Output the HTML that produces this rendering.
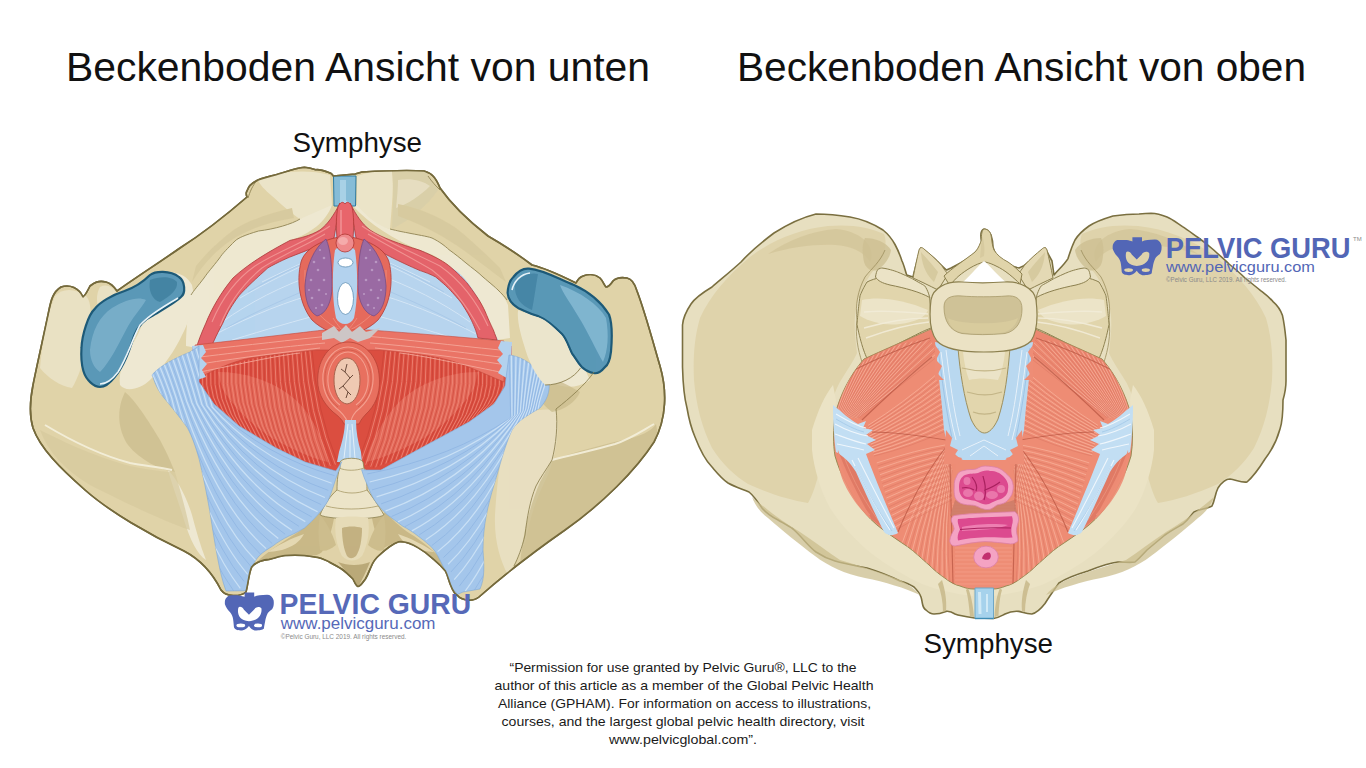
<!DOCTYPE html>
<html><head><meta charset="utf-8"><title>Beckenboden</title>
<style>
html,body{margin:0;padding:0;background:#fff;}
body{width:1366px;height:768px;overflow:hidden;position:relative;font-family:"Liberation Sans",sans-serif;}
svg{position:absolute;left:0;top:0;}
</style></head><body>
<svg width="1366" height="768" viewBox="0 0 1366 768" font-family="Liberation Sans, sans-serif">
<g id="L">
<!-- bone silhouette -->
<path fill="#e0d3a8" stroke="#756a3c" stroke-width="1.6" stroke-linejoin="round" d="
M304.4 167.2 C296 168 288 171 280 173.5 C270 176.5 260 178.5 256 181 C252 183 250.5 185 249.7 185.8 C248 188 247 191 246.4 192.2 C246 194 246.5 196 247 197 C232 210 205 232 180 248 C160 262 135 278 117 291
C113 285 110 283 106 282 C98 280 94 283 90 286 C87 292 85 296 83 297 C79 288 70 284 61 287 C53 292 51 300 49 310
C45 330 38 360 33 385 C30 400 29 415 33 428 C40 448 60 468 85 490 C110 512 150 535 184 551
C205 562 215 578 221 590 C226 597 240 597 246 592 C248 585 249 572 251.7 567 C256 562 262 560 269 559.4 C275 558 280 556 285 555.5 C292 555 298 555 304.5 555.5 C310 556 314 557 318 557.5 C322 558 325 560 328 561.4 C333 564 337 566 341.6 569 C346 572 350 576 353 579 C355 583 356 586 358 586.5 C361 586 363 582 365.4 579 C368 575 369 571 371 567 C373 562 376 558 379 555.5 C385 550 392 544 398.6 541.8 C405 541 412 544 418 547.6 C424 551 429 555 433.7 559.4 C438 563 442 567 445.4 571 C448 576 449 582 451.3 586.7 C453 591 455 594 457 595
C462 601 473 602 479 597 C496 582 522 560 565 530 C602 504 636 470 654 442 C667 418 667 390 660 366
C653 342 645 312 637 291 C635 284 632 279 627 278 C621 277 616 278 613 281 C611 284 609 287 606 287 C604 285 603 281 600 278 C595 274 588 274 583 276 C580 277 578 279 576 283
C560 275 545 268 532 265 C515 252 500 243 488 236 C470 222 452 205 440 188 C436 178 432 173 424 171
C410 170 380 171 362 172 L355 174 L333.4 176 C332 174 331 173 330 172.9 C325 171 320 169 315.7 169.7 C312 168.5 308 167.5 304.4 167.2 Z"/>
<defs><clipPath id="Lsil"><path d="
M304.4 167.2 C296 168 288 171 280 173.5 C270 176.5 260 178.5 256 181 C252 183 250.5 185 249.7 185.8 C248 188 247 191 246.4 192.2 C246 194 246.5 196 247 197 C232 210 205 232 180 248 C160 262 135 278 117 291
C113 285 110 283 106 282 C98 280 94 283 90 286 C87 292 85 296 83 297 C79 288 70 284 61 287 C53 292 51 300 49 310
C45 330 38 360 33 385 C30 400 29 415 33 428 C40 448 60 468 85 490 C110 512 150 535 184 551
C205 562 215 578 221 590 C226 597 240 597 246 592 C248 585 249 572 251.7 567 C256 562 262 560 269 559.4 C275 558 280 556 285 555.5 C292 555 298 555 304.5 555.5 C310 556 314 557 318 557.5 C322 558 325 560 328 561.4 C333 564 337 566 341.6 569 C346 572 350 576 353 579 C355 583 356 586 358 586.5 C361 586 363 582 365.4 579 C368 575 369 571 371 567 C373 562 376 558 379 555.5 C385 550 392 544 398.6 541.8 C405 541 412 544 418 547.6 C424 551 429 555 433.7 559.4 C438 563 442 567 445.4 571 C448 576 449 582 451.3 586.7 C453 591 455 594 457 595
C462 601 473 602 479 597 C496 582 522 560 565 530 C602 504 636 470 654 442 C667 418 667 390 660 366
C653 342 645 312 637 291 C635 284 632 279 627 278 C621 277 616 278 613 281 C611 284 609 287 606 287 C604 285 603 281 600 278 C595 274 588 274 583 276 C580 277 578 279 576 283
C560 275 545 268 532 265 C515 252 500 243 488 236 C470 222 452 205 440 188 C436 178 432 173 424 171
C410 170 380 171 362 172 L355 174 L333.4 176 C332 174 331 173 330 172.9 C325 171 320 169 315.7 169.7 C312 168.5 308 167.5 304.4 167.2 Z"/></clipPath></defs>
<g clip-path="url(#Lsil)">
<!-- bone light areas -->
<g fill="#ebe4c8">
<path d="M258 180 C275 172 305 168 330 175 L332 205 C325 212 312 217 300 219 C292 214 282 205 272 196 C265 190 260 185 258 180 Z"/>
<path d="M357 176 C368 172 380 170 392 170 C394 185 392 205 390 229 C377 227 364 219 357 205 Z"/>
<path fill="#d9cfa8" d="M392 170 C405 169 418 170 426 172 C432 180 436 186 438 190 C428 205 410 220 392 229 C393 210 394 190 392 170 Z"/>
<path fill="#e6ddc0" d="M398 180 C410 178 422 180 430 186 C420 196 408 204 396 208 C397 198 398 188 398 180 Z"/>
</g>
<g fill="#d8cb9f">
<path d="M292 208 C270 213 250 220 235 229 C220 240 207 252 196 266 L192 282 C202 266 214 252 230 241 C246 230 268 222 294 218 Z"/>
<path d="M398 204 C420 208 440 217 456 228 C471 240 486 254 500 268 L506 282 C490 270 472 256 456 245 C438 233 420 224 398 216 Z"/>
</g>
<g fill="#eee8d2">
<path d="M300 219 C292 224 275 229 258.5 231 C245 235 238 238 235 241 C228 248 222 254 219.6 258 C212 268 208 272 204 278 C198 286 194 290 191 295 C188 310 186 330 186 346 L197 348 C199 342 201 334 205.6 323.75 C212 308 221 292.5 233 278 C248 264 268 252 290 240.4 C310 234 326 222 332 205 Z"/>
<path d="M357 205 C368 218 378 226 390 229 C398 231 403 232 407 232.7 C418 235 426 236 432 238 C440 242 445 246 449 249.7 C455 254 460 258 466 263 C472 268 478 272 483 277 C490 283 495 287 498 290 C503 295 506 300 508 305 L510 338 L497 340 C495 335 493.4 330 493.4 330 C490 323 487 316 487 316 C484 308 479 300 479 300 C474 292 467 283 467 283 C460 275 451 267.5 451 267.5 C445 262 435.6 256.6 435.6 256.6 C430 253 420 250.3 420 250.3 C395 240 370 225 352 205 Z"/>
<path d="M150 278 C170 268 185 272 192 285 C196 300 190 320 182 335 C175 350 165 365 150 380 C140 390 125 392 120 385 C118 372 125 355 135 340 C145 322 150 300 150 278 Z"/>
<path d="M520 300 C540 305 560 320 572 340 C580 355 585 370 590 380 C575 390 560 388 548 380 C540 365 535 345 530 330 C526 318 522 308 520 300 Z"/>
<path d="M168 470 C176 478 186 495 192 515 C196 530 200 545 206 560 C198 555 190 540 184 520 C178 500 172 485 168 470 Z"/>
<path fill="#e8dfc0" d="M510 418 C522 412 540 408 556 410 C560 430 556 455 548 475 C538 495 530 515 526 540 C520 555 514 565 508 575 C500 560 494 540 495 515 C497 480 502 445 510 418 Z"/>
</g>
<g fill="#c9bb8d">
<path d="M290 240.4 C268 252 248 264 233 278 C221 292.5 212 308 205.6 323.75 L209.5 323 C216 309 225 295 237 282 C252 269 271 257 293 245 Z"/>
<path d="M420 250.3 C435.6 256.6 445 262 451 267.5 C460 275 467 283 467 283 C474 292 479 300 479 300 C484 308 487 316 487 316 L483 318 C479 308 474 300 464 288 C456 279 446 271 434 263 C428 259 422 256 418 254 Z"/>
</g>
<!-- bone shadows -->
<g fill="#cbbc8e" opacity="0.75">
<path d="M125 392 C135 400 148 420 160 440 C168 455 172 465 175 472 C160 470 140 460 128 445 C118 430 116 410 125 392 Z"/>
<path d="M532 372 C548 374 566 384 580 392 C576 402 564 410 552 412 C542 405 534 392 532 380 Z"/>

<path d="M552 460 C575 452 605 444 632 438 C645 434 652 430 656 424 C660 440 654 456 642 468 C618 492 588 515 560 535 C545 546 530 556 520 566 C522 540 528 510 540 482 Z"/>
</g>
<path fill="#d6c99d" opacity="0.7" d="M40 430 C60 440 90 455 130 466 C150 470 165 472 175 472 C180 490 186 510 190 530 C160 520 120 500 90 485 C65 470 48 452 40 430 Z"/>
<path fill="#e9e1c3" d="M55 296 C62 288 75 288 86 296 C94 304 90 330 86 350 C82 366 78 378 72 388 C60 386 48 378 40 368 C42 345 46 318 55 296 Z"/>
<path fill="#e9e1c3" d="M100 287 C106 284 112 286 116 292 C110 298 104 302 98 306 C96 300 97 292 100 287 Z"/>
<g fill="none" stroke="#f4efdc" stroke-width="2" opacity="0.9">
<path d="M45 425 C70 440 100 455 130 463 C145 466 160 467 172 470"/>
<path d="M654 424 C640 432 630 439 615 444 C595 450 570 455 552 460"/>
</g>
<!-- symphysis -->
<path fill="#86bcd8" stroke="#2e7aa0" stroke-width="1" d="M333.5 176 L356 176 L355.5 206 L334 206 Z"/>
<path fill="#a9d2e6" d="M340 180 L346 180 L346 204 L340 204 Z"/>
<!-- inner region base (blue membrane) -->
<path id="Linner" fill="#b7d4ee" d="M345 200 L340 203 C334 215 328 224 320 230 C310 236 300 238 290 240.4 C268 252 248 264 233 278 C221 292.5 212 308 205.6 323.75 C200 336 198 342 197 348 L192 380
L199 386 L214 404 L239 426 L276 448 L305 462 L334 473 L343 462 L356 462 L366 470 L381 470 L421 448 L469 422 L494 404 L505 386 L510 355
L497 338 C493 330 487 316 479 300 C470 283 460 272 451 267.5 C440 260 430 254 420 250.3 C400 244 382 238 370 230 C362 224 356 215 350 203 Z"/>
<g stroke="#d9e9f8" stroke-width="1" fill="none" opacity="0.85">
<path d="M222 322 C250 302 282 286 316 274"/><path d="M216 334 C250 316 290 300 322 292"/><path d="M240 298 C266 283 292 270 316 260"/><path d="M232 340 C265 330 298 320 326 313"/><path d="M262 282 C282 272 300 264 318 256"/>
<path d="M470 322 C442 302 410 286 376 274"/><path d="M476 334 C442 316 402 300 370 292"/><path d="M452 298 C426 283 400 270 376 260"/><path d="M460 340 C427 330 394 320 366 313"/><path d="M430 282 C410 272 392 264 374 256"/>
</g>
<g stroke="#9fc2e4" stroke-width="0.8" fill="none" opacity="0.7">
<path d="M226 328 C258 310 292 296 320 284"/><path d="M248 292 C272 278 296 266 316 258"/><path d="M466 328 C434 310 400 296 372 284"/><path d="M444 292 C420 278 396 266 376 258"/>
</g>
<!-- levator ani -->
<path fill="#db4e40" d="M192 346 L512 346 L510 386 L494 404 L469 422 L421 448 L381 470 L366 470 L356 462 L343 462 L334 473 L305 462 L276 448 L239 426 L214 404 L199 386 L192 380 Z"/>
<g fill="#e66e5e" opacity="0.85">
<path d="M218 372 C250 372 285 385 305 410 C318 428 325 445 328 462 C310 458 290 448 272 438 C250 424 232 405 222 388 Z"/>
<path d="M478 372 C446 372 412 385 392 410 C378 428 370 445 366 462 C385 458 405 448 424 438 C446 424 464 405 474 388 Z"/>
</g>
<g stroke="#f08a7a" stroke-width="1" fill="none" opacity="0.8"><path d="M194.1 377.2 Q192.6 396.1 208.2 406.5"/><path d="M198.2 375.7 Q196.6 397.0 212.6 409.5"/><path d="M202.4 374.2 Q200.7 397.9 217.0 412.4"/><path d="M206.5 372.7 Q204.7 398.7 221.4 415.4"/><path d="M210.7 371.2 Q208.7 399.6 225.8 418.4"/><path d="M214.9 369.7 Q212.7 400.4 230.2 421.4"/><path d="M219.0 368.2 Q216.8 401.3 234.7 424.3"/><path d="M223.2 366.7 Q220.8 402.2 239.1 427.3"/><path d="M227.4 365.4 Q224.8 403.1 243.5 430.3"/><path d="M231.7 364.2 Q229.0 404.1 248.0 433.1"/><path d="M235.9 363.1 Q233.2 404.9 252.7 435.5"/><path d="M240.2 361.9 Q237.5 405.6 257.4 438.0"/><path d="M244.5 360.8 Q241.7 406.4 262.2 440.4"/><path d="M248.8 359.7 Q245.9 407.2 266.9 442.9"/><path d="M253.0 358.5 Q250.4 407.9 271.6 445.4"/><path d="M257.3 357.5 Q255.2 408.5 276.3 447.8"/><path d="M261.7 356.7 Q260.0 409.2 281.0 450.3"/><path d="M266.0 355.8 Q264.8 409.8 285.7 452.8"/><path d="M270.4 354.9 Q269.6 410.5 290.5 455.2"/><path d="M274.7 354.1 Q274.5 410.9 295.4 457.2"/><path d="M279.0 353.2 Q279.3 411.4 300.3 459.2"/><path d="M283.4 352.3 Q284.2 411.8 305.2 461.2"/><path d="M287.7 351.8 Q289.1 412.4 310.2 463.2"/><path d="M292.2 351.5 Q294.1 413.1 315.1 465.2"/><path d="M296.6 351.1 Q299.0 413.8 320.0 467.2"/><path d="M301.0 350.8 Q304.0 413.5 325.1 467.2"/><path d="M305.4 350.5 Q309.0 412.6 330.3 465.9"/><path d="M309.8 350.2 Q314.1 411.7 335.4 464.6"/><path d="M503.9 377.3 Q505.3 396.1 489.8 406.5"/><path d="M499.6 375.8 Q501.2 397.0 485.3 409.5"/><path d="M495.4 374.3 Q497.1 397.9 480.8 412.6"/><path d="M491.2 372.8 Q493.0 398.8 476.3 415.6"/><path d="M486.9 371.3 Q488.9 399.7 471.8 418.6"/><path d="M482.7 369.8 Q484.8 400.6 467.4 421.6"/><path d="M478.5 368.3 Q480.7 401.5 462.9 424.7"/><path d="M474.2 366.8 Q476.6 402.4 458.4 427.7"/><path d="M469.9 365.5 Q472.5 403.4 453.9 430.7"/><path d="M465.6 364.3 Q468.3 404.3 449.2 433.4"/><path d="M461.3 363.1 Q464.0 405.1 444.5 435.9"/><path d="M456.9 362.0 Q459.7 405.9 439.7 438.4"/><path d="M452.6 360.8 Q455.3 406.7 434.9 441.0"/><path d="M448.2 359.7 Q451.0 407.5 430.1 443.5"/><path d="M443.9 358.5 Q446.5 408.2 425.3 446.0"/><path d="M439.5 357.5 Q441.6 408.8 420.5 448.5"/><path d="M435.1 356.6 Q436.8 409.5 415.7 451.0"/><path d="M430.7 355.7 Q431.9 410.2 410.9 453.5"/><path d="M426.3 354.9 Q427.0 410.7 406.0 455.8"/><path d="M421.9 354.0 Q422.0 411.1 401.0 457.7"/><path d="M417.5 353.1 Q417.0 411.5 395.9 459.6"/><path d="M413.1 352.2 Q412.1 411.9 390.9 461.6"/><path d="M408.6 351.8 Q407.0 412.5 385.8 463.5"/><path d="M404.2 351.4 Q402.0 413.2 380.8 465.4"/><path d="M399.7 351.1 Q397.0 413.9 375.7 467.3"/><path d="M395.2 350.8 Q392.0 413.3 370.7 466.7"/><path d="M390.7 350.5 Q386.9 412.1 365.6 464.8"/><path d="M386.2 350.2 Q381.9 410.8 360.5 462.9"/></g>
<g stroke="#c23a2f" stroke-width="0.8" fill="none" opacity="0.55"><path d="M196.2 376.5 Q194.6 396.6 210.4 408.0"/><path d="M200.3 375.0 Q198.7 397.4 214.8 411.0"/><path d="M204.5 373.5 Q202.7 398.3 219.2 413.9"/><path d="M208.6 372.0 Q206.7 399.1 223.6 416.9"/><path d="M212.8 370.4 Q210.7 400.0 228.0 419.9"/><path d="M216.9 368.9 Q214.8 400.9 232.5 422.9"/><path d="M221.1 367.4 Q218.8 401.7 236.9 425.8"/><path d="M225.3 365.9 Q222.8 402.6 241.3 428.8"/><path d="M229.5 364.8 Q226.9 403.6 245.7 431.8"/><path d="M233.8 363.7 Q231.1 404.5 250.4 434.3"/><path d="M238.1 362.5 Q235.4 405.2 255.1 436.7"/><path d="M242.3 361.4 Q239.6 406.0 259.8 439.2"/><path d="M246.6 360.2 Q243.8 406.8 264.5 441.7"/><path d="M250.9 359.1 Q248.1 407.6 269.2 444.1"/><path d="M255.2 358.0 Q252.8 408.2 273.9 446.6"/><path d="M259.5 357.1 Q257.6 408.8 278.7 449.1"/><path d="M263.8 356.2 Q262.4 409.5 283.4 451.5"/><path d="M268.2 355.4 Q267.2 410.2 288.1 454.0"/><path d="M272.5 354.5 Q272.0 410.7 292.9 456.2"/><path d="M276.9 353.6 Q276.9 411.1 297.9 458.2"/><path d="M281.2 352.8 Q281.8 411.6 302.8 460.2"/><path d="M285.5 352.0 Q286.7 412.0 307.7 462.2"/><path d="M289.9 351.6 Q291.6 412.8 312.6 464.2"/><path d="M294.4 351.3 Q296.5 413.5 317.6 466.2"/><path d="M298.8 351.0 Q301.5 414.0 322.5 467.9"/><path d="M303.2 350.7 Q306.5 413.1 327.7 466.6"/><path d="M307.6 350.3 Q311.6 412.1 332.8 465.3"/><path d="M312.0 350.0 Q316.6 411.2 338.0 464.0"/><path d="M501.8 376.5 Q503.3 396.6 487.5 408.0"/><path d="M497.5 375.0 Q499.2 397.5 483.0 411.1"/><path d="M493.3 373.5 Q495.1 398.4 478.6 414.1"/><path d="M489.1 372.0 Q491.0 399.3 474.1 417.1"/><path d="M484.8 370.5 Q486.9 400.2 469.6 420.1"/><path d="M480.6 369.0 Q482.8 401.1 465.1 423.2"/><path d="M476.4 367.5 Q478.7 402.0 460.6 426.2"/><path d="M472.1 366.0 Q474.6 402.8 456.1 429.2"/><path d="M467.8 364.9 Q470.4 403.9 451.6 432.2"/><path d="M463.4 363.7 Q466.1 404.7 446.9 434.7"/><path d="M459.1 362.6 Q461.8 405.5 442.1 437.2"/><path d="M454.8 361.4 Q457.5 406.3 437.3 439.7"/><path d="M450.4 360.2 Q453.2 407.1 432.5 442.2"/><path d="M446.1 359.1 Q448.9 407.9 427.7 444.7"/><path d="M441.7 357.9 Q444.1 408.5 422.9 447.2"/><path d="M437.3 357.1 Q439.2 409.1 418.1 449.7"/><path d="M432.9 356.2 Q434.3 409.8 413.3 452.2"/><path d="M428.5 355.3 Q429.5 410.5 408.5 454.7"/><path d="M424.1 354.4 Q424.5 410.9 403.5 456.7"/><path d="M419.7 353.5 Q419.5 411.3 398.4 458.7"/><path d="M415.3 352.7 Q414.5 411.7 393.4 460.6"/><path d="M410.9 351.9 Q409.6 412.2 388.3 462.5"/><path d="M406.4 351.6 Q404.5 412.9 383.3 464.4"/><path d="M401.9 351.3 Q399.5 413.5 378.2 466.4"/><path d="M397.4 351.0 Q394.5 413.9 373.2 467.7"/><path d="M393.0 350.6 Q389.5 412.7 368.1 465.8"/><path d="M388.5 350.3 Q384.4 411.4 363.1 463.9"/><path d="M384.0 350.0 Q379.4 410.2 358.0 462.0"/></g>
<!-- ischiocavernosus (crura) -->
<path fill="#e4636a" stroke="#b23a36" stroke-width="0.8" d="M340 203 C334 215 328 224 320 230 C310 236 300 238 290 240.4 C268 252 248 264 233 278 C221 292.5 212 308 205.6 323.75 C201 334 198 342 196 349 L211 348 C214 340 218 332 222.5 323.75 C226 316 229 310.7 229 310.7 C234 302 239.5 295 239.5 295 C245 289 252.5 282 252.5 282 C260 275 268 267.8 268 267.8 C278 262 290 257 290 257 C305 251 320 246 334 238 Z"/>
<path fill="#e4636a" stroke="#b23a36" stroke-width="0.8" d="M350 203 C356 215 362 224 370 230 C382 238 400 244 420 250.3 C435 256.6 445 262 451 267.5 C460 275 467 283 467 283 C474 292 479 300 479 300 C484 308 487 316 487 316 C490 323 493.4 330 493.4 330 C495 335 496.6 337.8 497 340 L478 338 C476 330 474 326 471.6 320.6 C467 311 460.6 302 460.6 302 C455 295 448 287.8 448 287.8 C442 282 435.6 276.9 435.6 276.9 C428 273 420 270.6 420 270.6 C400 262 380 252 356 238 Z"/>
<g stroke="#f39a98" stroke-width="1.1" fill="none" opacity="0.85">
<path d="M330 226 C310 240 280 250 255 266 C235 280 222 298 212 322"/>
<path d="M325 234 C305 246 280 256 262 268 C245 282 230 300 220 326"/>
<path d="M362 226 C382 240 412 252 440 266 C460 280 476 300 488 326"/>
<path d="M368 234 C388 246 412 258 432 270 C450 284 466 304 480 330"/>
</g>
<!-- bulbospongiosus surround -->
<path fill="#e56a5c" stroke="#b23a36" stroke-width="0.8" d="M345 236 C330 238 306 245 301 262 C296 282 300 305 312 320 C322 330 336 334 345 337 C354 334 368 330 378 320 C390 305 394 282 389 262 C384 245 360 238 345 236 Z"/>
<g stroke="#f39a8c" stroke-width="0.8" fill="none" opacity="0.8"><path d="M305 270 C304 295 312 315 340 330"/><path d="M386 270 C387 295 379 315 350 330"/><path d="M333 318 C338 326 342 330 345 333"/><path d="M357 318 C352 326 348 330 345 333"/></g>
<!-- bulbs -->
<path fill="#9a6aa3" stroke="#7a4c84" stroke-width="0.8" d="M326 239 C314 248 306 266 305 286 C305 300 309 312 317 316 C326 314 332 302 332 286 C332 268 331 250 326 239 Z"/>
<path fill="#9a6aa3" stroke="#7a4c84" stroke-width="0.8" d="M364 239 C376 248 385 266 386 286 C386 300 382 312 374 316 C365 314 358 302 358 286 C358 268 359 250 364 239 Z"/>
<g fill="#b996c2">
<circle cx="314" cy="262" r="1.3"/><circle cx="318" cy="270" r="1.3"/><circle cx="311" cy="280" r="1.3"/><circle cx="319" cy="290" r="1.3"/><circle cx="312" cy="298" r="1.3"/><circle cx="324" cy="280" r="1.3"/><circle cx="322" cy="305" r="1.3"/><circle cx="324" cy="258" r="1.3"/><circle cx="309" cy="290" r="1.1"/><circle cx="326" cy="294" r="1.1"/><circle cx="316" cy="308" r="1.1"/><circle cx="320" cy="250" r="1.1"/>
<circle cx="376" cy="262" r="1.3"/><circle cx="372" cy="270" r="1.3"/><circle cx="379" cy="280" r="1.3"/><circle cx="371" cy="290" r="1.3"/><circle cx="378" cy="298" r="1.3"/><circle cx="366" cy="280" r="1.3"/><circle cx="368" cy="305" r="1.3"/><circle cx="366" cy="258" r="1.3"/><circle cx="381" cy="290" r="1.1"/><circle cx="364" cy="294" r="1.1"/><circle cx="374" cy="308" r="1.1"/><circle cx="370" cy="250" r="1.1"/>
</g>
<!-- vestibule -->
<path fill="#b3d2ee" d="M335 250 C332 270 332 300 336 318 C340 326 350 326 354 318 C358 300 358 270 355 250 C350 245 340 245 335 250 Z"/>
<ellipse cx="345.5" cy="262.5" rx="7.5" ry="4.5" fill="#fff" stroke="#5e8fb4" stroke-width="0.8"/>
<ellipse cx="345.5" cy="298.5" rx="8" ry="16" fill="#fff" stroke="#5e8fb4" stroke-width="0.8"/>
<!-- clitoris -->
<path fill="#e8656c" stroke="#b23a36" stroke-width="0.8" d="M338 207 C336 215 336 228 337 238 C340 246 350 246 353 238 C354 228 354 215 352 207 C350 202 347 201 345 204 C343 201 340 202 338 207 Z"/>
<path fill="none" stroke="#f3a0a0" stroke-width="1.2" d="M341 210 L341 236"/>
<circle cx="345" cy="243" r="9" fill="#ef8a8c" stroke="#b23a36" stroke-width="0.8"/>
<ellipse cx="343" cy="241" rx="5" ry="4" fill="#f6b3b3" opacity="0.8"/>
<!-- transverse perineal band -->
<path fill="#ea7466" stroke="#c4463a" stroke-width="0.6" d="M195 345 C240 340 290 334 324 330 L369 330 C410 333 460 337 504 341 L504 382 C480 372 460 362 440 358 C420 354 400 352 379 350 L317 350 C290 353 270 355 250 358 C230 362 210 372 195 380 Z"/>
<g stroke="#f6aa9c" stroke-width="1" fill="none" opacity="0.85">
<path d="M200 350 C250 345 290 340 330 336"/><path d="M200 357 C250 351 290 346 325 343"/><path d="M200 364 C245 357 285 352 320 348"/><path d="M200 372 C240 364 275 356 300 353"/>
<path d="M500 350 C450 345 410 340 365 336"/><path d="M500 357 C450 351 410 346 370 343"/><path d="M500 364 C455 357 415 352 375 348"/><path d="M500 372 C460 364 425 356 400 353"/>
</g>
<!-- blue tendon ends of transverse band -->
<path fill="#b3d2ee" d="M192 346 L203 345 L206 352 L201 358 L207 364 L202 370 L206 377 L194 381 Z"/>
<path fill="#b3d2ee" d="M512 342 L501 341 L498 348 L503 354 L497 360 L502 366 L498 373 L510 380 Z"/>
<!-- perineal body -->
<path fill="#cdc6c6" d="M322 333 L334 326 L339 332 L346 325 L352 332 L360 326 L366 332 L380 328 L370 338 L358 342 L350 338 L342 343 L334 338 L322 340 Z"/>
<!-- anal sphincter -->
<path fill="#e8705f" stroke="#b84236" stroke-width="0.8" d="M348 342 C332 342 320 356 318 374 C316 390 322 402 333 412 C338 416 342 419 344 424 L359 424 C361 419 365 415 369 411 C377 402 381 390 379 374 C377 356 364 342 348 342 Z"/>
<g fill="none" stroke="#f6a595" stroke-width="1.1" opacity="0.9">
<path d="M348 347 C336 347 325 358 323 374 C322 388 327 400 336 408 C341 412 345 416 347 421"/>
<path d="M348 347 C360 347 371 358 373 374 C374 388 369 400 360 408 C355 412 352 416 351 421"/>
<path d="M348 352 C338 352 330 362 328 376 C327 390 332 399 340 405"/>
<path d="M348 352 C358 352 366 362 368 376 C369 390 364 399 356 405"/>
</g>
<g fill="none" stroke="#c9503f" stroke-width="0.8" opacity="0.7">
<path d="M348 350 C334 350 326 362 325 376 C324 390 330 401 338 407"/>
<path d="M348 350 C362 350 370 362 371 376 C372 390 366 401 358 407"/>
</g>
<path fill="#efc9b2" stroke="#a8644f" stroke-width="1" d="M347 358 C339 358 334 368 334 380 C334 393 339 403 347 404 C355 403 360 393 360 380 C360 368 355 358 347 358 Z"/>
<path d="M347 364 L345 372 L350 378 L343 386 L348 392 L346 398 M345 372 L341 369 M350 378 L353 375 M343 386 L339 389 M348 392 L351 395" stroke="#6b4a3a" stroke-width="1" fill="none"/>
<!-- anococcygeal -->
<path fill="#b3d2ee" d="M345 420 L356 420 C356 432 358 442 361 452 L362 462 L337 462 L339 452 C342 442 345 432 345 420 Z"/>
<path stroke="#e2eff9" stroke-width="1" fill="none" d="M348 424 L344 458 M352 424 L355 458 M350 430 L350 460"/>
<!-- coccyx / sacrum detail -->
<g fill="#c9b887">
<path d="M246 592 C248 580 250 572 254 565 C262 556 276 546 292 536 C302 530 312 522 320 512 L334 518 C332 530 328 542 322 552 C318 556 312 556 304 555.5 C295 555 288 555 283 556 C272 558 262 561 254 566 C250 575 248 585 246 592 Z"/>
<path d="M457 595 C455 585 452 575 447 566 C440 556 428 546 414 536 C404 530 394 522 386 512 L372 518 C374 530 378 540 384 548 C390 545 395 542 398.6 541.8 C408 542 418 548 428 555 C436 562 442 568 446 574 C450 582 453 590 457 595 Z"/>
</g>
<g fill="#e4d8b2">
<path d="M268 552 C278 545 292 538 304 534 C300 542 292 547 282 550 C276 551 271 552 268 552 Z"/>
<path d="M434 552 C424 545 410 538 398 534 C402 542 410 547 420 550 C426 551 431 552 434 552 Z"/>
</g>
<path fill="#ece4c8" stroke="#8c804f" stroke-width="0.8" d="M340 462 C342 457 361 457 363 462 L364 468 C366 472 367 480 367 490 C372 496 378 505 384 515 C376 520 330 520 320 515 C324 505 330 496 337 490 C337 480 338 472 340 468 Z"/>
<g fill="none" stroke="#a89a68" stroke-width="0.8"><path d="M339 468 C346 471 356 471 364 468"/><path d="M337 490 C346 494 358 494 367 490"/><path d="M326 506 C340 510 362 510 378 506"/></g>
<g fill="#cdbd8d">
<path d="M320 515 C326 522 332 532 336 545 C330 550 324 552 320 550 C318 538 318 526 320 515 Z"/>
<path d="M384 515 C378 522 372 532 368 545 C374 550 380 552 384 550 C386 538 386 526 384 515 Z"/>
</g>
<path fill="#e6dbb7" d="M336 518 C346 516 358 516 368 518 C370 530 368 545 362 556 C356 562 348 562 342 556 C336 545 334 530 336 518 Z"/>
<path fill="#c3b181" d="M342 528 C348 526 356 526 362 528 C362 540 360 550 356 556 C352 559 350 559 347 556 C344 550 342 540 342 528 Z"/>
<path fill="#bba979" d="M338 562 C345 570 352 580 358 587 C362 580 366 572 370 562 C360 566 348 566 338 562 Z"/>
<g fill="#b9a775" opacity="0.8">
<path d="M252 568 C262 562 276 558 290 557 C300 556 312 557 322 560 C330 563 338 566 344 572 C335 570 325 566 312 564 C295 562 275 564 256 574 Z"/>
<path d="M450 575 C442 566 430 558 418 552 C410 548 404 546 398 546 C390 548 384 553 378 560 C386 556 394 553 402 553 C418 556 432 564 448 584 Z"/>
</g>
<!-- sacrotuberous ligaments -->
<defs><clipPath id="ligclip"><path d="M152 375 C158 367 175 358 190 352 L199 346 L199 382 L214 404 L239 426 L276 448 L305 462 L336 471 L341.6 461.7
C339 470 336 478 333.8 485 C332 491 330 496 328 500.8 C325 506 322 510 318 514.5 C314 519 309 524 304.5 528 C299 531 294 534 288.9 536 C283 539 278 542 273 545.8 C268 549 263 552 259.5 555.5 C256 559 254 563 251.7 567 C250 572 249 578 247.8 583 C247 586 246.5 589 245.9 590.7 L226 591 C222 580 220 570 218 560 C215 545 212 525 209.5 509.5 C207 495 203 475 199 458.6 C196 448 192 436 187.5 428 C182 420 170 405 163.7 397.6 C158 390 155 384 153 377 Z"/><path d="M509 355 C520 356 535 364 549 382 C550 392 547 400 540 408 C530 414 518 420 512 430 C505 445 500 465 494 485 C488 505 483 525 483 550 C484 565 485 578 480 589 L463 592 L457.2 594.5 C455 591 453 589 451.3 586.7 C449 581 447 576 445.4 571 C443 566 441 562 439.6 559.4 C437 554 434 549 430 545.7 C426 542 422 539 418 536 C413 532 408 529 402.5 526 C397 522 392 518 386.9 514.4 C382 510 378 505 375 500.8 C372 496 369 490 367.3 485 C365 480 363 475 361.5 469.5 L366 470 L381 470 L421 448 L469 422 L494 404 L505 386 Z"/></clipPath></defs>
<path fill="#a5c7ec" stroke="#7fa9d6" stroke-width="0.6" d="M152 375 C158 367 175 358 190 352 L199 346 L199 382 L214 404 L239 426 L276 448 L305 462 L336 471 L341.6 461.7
C339 470 336 478 333.8 485 C332 491 330 496 328 500.8 C325 506 322 510 318 514.5 C314 519 309 524 304.5 528 C299 531 294 534 288.9 536 C283 539 278 542 273 545.8 C268 549 263 552 259.5 555.5 C256 559 254 563 251.7 567 C250 572 249 578 247.8 583 C247 586 246.5 589 245.9 590.7 L226 591 C222 580 220 570 218 560 C215 545 212 525 209.5 509.5 C207 495 203 475 199 458.6 C196 448 192 436 187.5 428 C182 420 170 405 163.7 397.6 C158 390 155 384 153 377 Z"/>
<path fill="#a5c7ec" stroke="#7fa9d6" stroke-width="0.6" d="M509 355 C520 356 535 364 549 382 C550 392 547 400 540 408 C530 414 518 420 512 430 C505 445 500 465 494 485 C488 505 483 525 483 550 C484 565 485 578 480 589 L463 592 L457.2 594.5 C455 591 453 589 451.3 586.7 C449 581 447 576 445.4 571 C443 566 441 562 439.6 559.4 C437 554 434 549 430 545.7 C426 542 422 539 418 536 C413 532 408 529 402.5 526 C397 522 392 518 386.9 514.4 C382 510 378 505 375 500.8 C372 496 369 490 367.3 485 C365 480 363 475 361.5 469.5 L366 470 L381 470 L421 448 L469 422 L494 404 L505 386 Z"/>
<g clip-path="url(#ligclip)">
<g stroke="#cfe3f7" stroke-width="1.2" fill="none" opacity="0.9"><path d="M151.0 371.2 Q156.1 381.3 161.3 395.3 Q187.2 532.8 226.0 591.8"/><path d="M155.1 368.1 Q160.7 380.3 166.4 396.5 Q196.0 530.9 240.3 588.4"/><path d="M159.1 364.9 Q165.3 379.3 171.5 397.7 Q202.0 521.3 247.7 574.3"/><path d="M163.2 361.7 Q169.9 378.3 176.5 398.8 Q208.4 512.2 256.1 560.8"/><path d="M167.2 358.6 Q174.4 377.3 181.6 400.0 Q215.4 504.0 266.1 548.6"/><path d="M171.9 356.5 Q179.3 376.8 186.7 401.2 Q223.4 497.2 278.3 538.4"/><path d="M176.6 354.5 Q184.2 376.5 191.8 402.4 Q231.9 491.9 292.0 530.3"/><path d="M181.4 352.6 Q189.2 376.1 196.9 403.6 Q240.3 486.2 305.3 521.6"/><path d="M186.2 350.7 Q194.1 375.7 202.0 404.8 Q248.3 479.6 317.6 511.7"/><path d="M191.1 349.5 Q199.1 375.7 207.1 405.9 Q254.2 470.0 324.8 497.5"/><path d="M196.2 348.6 Q204.2 375.9 212.2 407.1 Q260.0 460.3 331.7 483.2"/><path d="M547.3 379.1 Q543.3 388.7 539.3 402.4 Q516.3 535.0 481.8 591.8"/><path d="M544.7 375.4 Q540.6 387.6 536.6 403.8 Q508.0 534.9 465.2 591.1"/><path d="M542.0 371.7 Q537.9 386.5 533.9 405.3 Q502.0 527.3 454.2 579.6"/><path d="M539.3 368.0 Q535.2 385.3 531.1 406.7 Q497.9 516.9 448.1 564.2"/><path d="M536.6 364.3 Q532.5 384.2 528.4 408.2 Q492.1 508.6 437.6 551.6"/><path d="M533.3 361.4 Q529.5 383.5 525.7 409.6 Q485.7 500.8 425.8 539.8"/><path d="M529.0 359.9 Q526.0 383.5 523.0 411.1 Q478.5 494.9 411.9 530.9"/><path d="M524.7 358.4 Q522.5 383.5 520.2 412.5 Q471.4 488.9 398.1 521.7"/><path d="M520.4 356.8 Q518.9 383.4 517.5 414.0 Q464.7 481.8 385.6 510.9"/><path d="M516.0 355.8 Q515.4 383.6 514.8 415.5 Q459.5 472.5 376.5 496.9"/><path d="M511.4 355.3 Q511.7 384.1 512.0 416.9 Q455.1 462.4 369.6 482.0"/></g>
<g stroke="#86ade0" stroke-width="0.8" fill="none" opacity="0.7"><path d="M153.0 369.6 Q158.4 380.8 163.8 395.9 Q191.9 532.7 233.9 591.3"/><path d="M157.1 366.5 Q163.0 379.8 168.9 397.1 Q199.0 526.1 244.0 581.4"/><path d="M161.2 363.3 Q167.6 378.8 174.0 398.2 Q205.1 516.7 251.7 567.4"/><path d="M165.2 360.2 Q172.1 377.8 179.1 399.4 Q211.7 507.8 260.5 554.2"/><path d="M169.5 357.4 Q176.8 377.0 184.2 400.6 Q219.4 500.6 272.2 543.5"/><path d="M174.3 355.5 Q181.8 376.6 189.3 401.8 Q227.6 494.5 285.1 534.2"/><path d="M179.0 353.6 Q186.7 376.3 194.4 403.0 Q236.2 489.3 298.9 526.3"/><path d="M183.8 351.7 Q191.6 375.9 199.5 404.2 Q244.4 483.1 311.7 516.9"/><path d="M188.6 349.9 Q196.6 375.6 204.5 405.3 Q251.2 474.8 321.2 504.6"/><path d="M193.7 349.1 Q201.7 375.8 209.6 406.5 Q257.1 465.2 328.3 490.4"/><path d="M198.7 348.2 Q206.7 376.0 214.7 407.7 Q262.7 455.3 334.6 475.7"/><path d="M546.0 377.2 Q542.0 388.2 538.0 403.1 Q512.2 534.9 473.5 591.5"/><path d="M543.3 373.5 Q539.3 387.0 535.2 404.5 Q504.8 531.7 459.3 586.2"/><path d="M540.6 369.8 Q536.6 385.9 532.5 406.0 Q499.9 522.2 450.9 572.0"/><path d="M538.0 366.1 Q533.9 384.8 529.8 407.5 Q495.3 512.5 443.5 557.5"/><path d="M535.3 362.4 Q531.2 383.7 527.0 408.9 Q488.9 504.7 431.7 545.7"/><path d="M531.2 360.6 Q527.7 383.5 524.3 410.4 Q482.3 497.5 419.2 534.9"/><path d="M526.8 359.1 Q524.2 383.5 521.6 411.8 Q474.8 492.3 404.7 526.8"/><path d="M522.5 357.6 Q520.7 383.4 518.9 413.3 Q467.9 485.6 391.6 516.5"/><path d="M518.2 356.1 Q517.2 383.4 516.1 414.7 Q462.1 477.1 381.1 503.9"/><path d="M513.7 355.6 Q513.5 383.9 513.4 416.2 Q456.8 467.8 372.0 489.9"/><path d="M509.1 355.1 Q509.9 384.4 510.7 417.6 Q453.3 457.1 367.2 474.0"/></g>
</g>
<!-- cartilage blue -->
<path fill="#5a98b7" stroke="#1d5a78" stroke-width="2.2" d="M81.5 347.7 C82 335 88 315 95 308.6 C100 302 112 295 124.5 291 C133 288 143 282 150 275 C155 271 170 270 179 277 C185 281 186 293 181 297 C175 303 160 311 152 316 C143 320 138 326 134 336 C130 348 125 365 114.7 377 C110 383 105 387 100 387 C94 387 86 380 83.4 371 C81 363 81 355 81.5 347.7 Z"/>
<path fill="#7db0cb" opacity="0.85" d="M90 350 C92 330 100 316 112 308 C125 300 138 296 146 300 C140 310 132 318 126 330 C118 345 110 362 100 372 C94 368 90 360 90 350 Z"/>
<path fill="#3f7f9e" opacity="0.8" d="M150 280 C160 276 172 276 177 282 C178 290 170 296 160 302 C152 300 148 290 150 280 Z"/>
<path fill="none" stroke="#e8f3f8" stroke-width="1.6" d="M178 298 C165 306 150 314 140 325 C132 340 127 358 118 372 C112 380 106 384 100 384"/>
<path fill="#5a98b7" stroke="#1d5a78" stroke-width="2.2" d="M507.6 293 C508 285 510 280 513.4 277 C518 271 523 268 529 268.6 C545 270 560 280 574 285 C585 290 600 300 609 314.5 C613 325 612 340 611 351.6 C610 360 608 365 605 367 C600 373 597 374 593.5 373 C587 372 583 368 581.8 367 C577 362 575 357 572 353.5 C568 345 566 338 562 334 C556 328 548 320 538.8 316.4 C530 314 525 311 519 308.6 C513 305 508 300 507.6 293 Z"/>
<path fill="#86bad4" opacity="0.85" d="M560 285 C580 292 598 304 606 318 C609 335 608 350 603 362 C596 350 588 332 578 316 C570 302 562 292 560 285 Z"/>
<path fill="#3f7f9e" opacity="0.7" d="M515 285 C520 276 530 272 538 274 C536 285 534 300 532 310 C522 306 514 298 515 285 Z"/>
<path fill="none" stroke="#e8f3f8" stroke-width="1.6" d="M512 290 C514 281 521 274 530 273"/>
<path fill="#ece5cc" d="M518 310 C525 312.5 530 315.5 538.8 317.6 C548 321 555 329 561 335 C565 339 567 346 571 354.5 C574 358 576 363 580.5 368 C574 378 560 385 545 385 C535 375 528 360 524 345 C520 332 517 320 518 310 Z"/>
<path fill="none" stroke="#8c804f" stroke-width="0.9" d="M580.5 368 C574 378 560 385 545 385"/>
<!-- inner contour lines on bone -->
<g fill="none" stroke="#8c804f" stroke-width="1" opacity="0.85">
<path d="M300 219 C292 224 275 229 258.5 231 C245 235 238 238 235 241 C228 248 222 254 219.6 258 C212 268 208 272 204 278 C198 286 194 290 191 295"/>
<path d="M390 229 C398 231 403 232 407 232.7 C418 235 426 236 432 238 C440 242 445 246 449 249.7 C455 254 460 258 466 263 C472 268 478 272 483 277 C490 283 495 287 498 290 C502 294 505 297 507 300"/>
<path d="M258 179 C252 186 250 192 248 198"/>
<path d="M428 176 C432 182 436 186 440 190"/>
<path d="M594 372 C585 385 570 398 556 409 C558 425 556 445 552 460 C546 470 540 478 536 486 C530 500 527 518 525 535 C522 548 518 558 514 566"/>
</g>
</g>
<path fill="none" stroke="#756a3c" stroke-width="1.6" stroke-linejoin="round" d="
M304.4 167.2 C296 168 288 171 280 173.5 C270 176.5 260 178.5 256 181 C252 183 250.5 185 249.7 185.8 C248 188 247 191 246.4 192.2 C246 194 246.5 196 247 197 C232 210 205 232 180 248 C160 262 135 278 117 291
C113 285 110 283 106 282 C98 280 94 283 90 286 C87 292 85 296 83 297 C79 288 70 284 61 287 C53 292 51 300 49 310
C45 330 38 360 33 385 C30 400 29 415 33 428 C40 448 60 468 85 490 C110 512 150 535 184 551
C205 562 215 578 221 590 C226 597 240 597 246 592 C248 585 249 572 251.7 567 C256 562 262 560 269 559.4 C275 558 280 556 285 555.5 C292 555 298 555 304.5 555.5 C310 556 314 557 318 557.5 C322 558 325 560 328 561.4 C333 564 337 566 341.6 569 C346 572 350 576 353 579 C355 583 356 586 358 586.5 C361 586 363 582 365.4 579 C368 575 369 571 371 567 C373 562 376 558 379 555.5 C385 550 392 544 398.6 541.8 C405 541 412 544 418 547.6 C424 551 429 555 433.7 559.4 C438 563 442 567 445.4 571 C448 576 449 582 451.3 586.7 C453 591 455 594 457 595
C462 601 473 602 479 597 C496 582 522 560 565 530 C602 504 636 470 654 442 C667 418 667 390 660 366
C653 342 645 312 637 291 C635 284 632 279 627 278 C621 277 616 278 613 281 C611 284 609 287 606 287 C604 285 603 281 600 278 C595 274 588 274 583 276 C580 277 578 279 576 283
C560 275 545 268 532 265 C515 252 500 243 488 236 C470 222 452 205 440 188 C436 178 432 173 424 171
C410 170 380 171 362 172 L355 174 L333.4 176 C332 174 331 173 330 172.9 C325 171 320 169 315.7 169.7 C312 168.5 308 167.5 304.4 167.2 Z"/>
</g>
<g id="R">
<path fill="#e7dfc0" stroke="#7a6f40" stroke-width="1.6" stroke-linejoin="round" d="M816 214 C800 218 785 226 774 233 C762 242 750 252 741 262 C730 272 720 280 712 287 C702 293 695 298 691 304 C685 313 683 318 682.5 325 L682.5 367 C683 385 684 397 687 408 C689 420 692 430 695 437 C700 450 705 460 712 467 C718 474 722 479 728 483 C735 487 742 489 749 492 C754 496 758 502 762 508 C767 514 772 517 778 520 C785 524 789 526 793 529 C803 538 808 546 816 552 C822 556 828 559 835 561 C845 564 857 566 867 568 C880 572 890 576 900 581 C907 583 911 585 914 587 C918 591 920 594 921 597 C922 600 922 602 922.4 603.5 C923 607 924 609 926 610 C929 613 931 614 934 614 C938 614 942 613 946 611.4 C949 611 952 612 955 614 C960 616 968 617 975 618 L993.5 618.5 C998 618 1001 616 1005 614 C1009 612 1013 611 1018.6 611.4 C1022 612 1026 614 1031.8 614 C1036 613 1040 610 1045 603.5 C1049 597 1054 590 1059 583 C1068 577 1078 574 1088 571 C1098 567 1108 563 1118 562 C1125 562 1130 563 1135 562 C1140 558 1143 554 1147 550 C1153 545 1159 540 1165 535 C1172 530 1178 527 1183 524 C1188 520 1191 515 1194 512 C1200 509 1207 509 1212 506 C1215 500 1215 494 1218 488 C1222 482 1226 479 1230 479 C1236 480 1242 483 1247 482 C1255 475 1260 467 1265 459 C1272 450 1277 440 1280 429 C1283 420 1283 410 1283 400 C1285 393 1286 387 1286 381 L1286 340 C1285 330 1284 322 1282.5 315.6 C1280 308 1277 305 1273 301.6 C1268 296 1265 294 1260.6 290.6 C1255 286 1250 282 1245 278 C1240 273 1234 268 1229 264 C1224 259 1219 255 1213.75 250 C1208 245 1203 241 1198 237.5 C1193 234 1188 230 1182.5 226.6 C1177 223 1172 219 1167 217 C1162 215 1157 213.5 1151 213.3 C1147 213.3 1143 213.6 1139 214 C1130 214 1120 215 1113 216 C1103 219 1095 222 1089 226 C1082 231 1078 235 1075 240 C1072 246 1070 252 1068 258.6 C1064 265 1058 270 1054 275
L1052 261 L1045 248 C1038 254 1030 261 1024 265.6 L1019 268 C1010 266 1002 262 998 258.6 C995 254 994 250 993 247 C993 242 992 238 991 235 C989 231 987 229 984 229 C981 230 980 234 981.6 242 C980 248 976 253 972 256 C965 261 957 265 951 268 L946.5 270 C943 267 940 264 937 261 C932 256 926 252 920.7 248 C918 258 915 268 913 277 L906.7 275 C905 270 904 265 902 261 C900 255 898 250 895 244.5 C892 239 888 234 883 230 C872 223 862 219 850 217 C838 215 826 214 816 214 Z"/>
<g id="Rhalf">
<!-- fossa -->
<path fill="#dfd3ab" d="M828 226 C800 229 772 240 750 257 C728 275 710 296 700 318 C694 338 693 360 694 380 C696 405 702 428 712 448 C722 464 735 476 748 484 C770 494 790 500 808 503 C816 490 822 462 826 436 C828 412 833 392 843 377 C850 366 855 358 857 353 C855 335 853 320 857 304 C860 290 868 277 877 266 C884 255 888 244 884 234 C870 227 850 224 828 226 Z"/>
<path fill="#d3c59a" opacity="0.85" d="M836 229 C812 231 788 240 768 254 C792 247 814 244 836 245 C852 246 864 252 870 262 C876 250 866 232 836 229 Z"/>
<path fill="#cdbf92" opacity="0.8" d="M865 238 C875 238 886 242 891 250 C890 258 884 266 877 270 C870 272 866 268 864 262 C862 252 862 244 865 238 Z"/>
<!-- lower bone shading -->
<path fill="#cbbd8e" opacity="0.75" d="M752 497 C765 508 780 520 800 532 C815 542 828 552 840 560 C860 566 880 572 900 580 C910 585 916 590 920 595 C905 588 885 582 865 578 C845 574 828 566 815 556 C800 545 782 530 768 518 C760 512 755 505 752 497 Z"/>
<path fill="#ebe3c5" d="M812 430 C818 410 825 395 833 385 L836 400 C834 420 834 440 836 456 C840 472 846 484 852 494 C862 508 874 520 888 531 C902 542 918 555 932 566 C945 576 958 582 973 587 L973 596 C955 594 938 590 922 584 C905 576 888 566 872 554 C855 540 840 524 830 508 C820 490 814 468 812 450 Z"/>
<path fill="none" stroke="#9c8f5e" stroke-width="1" opacity="0.8" d="M862 362 C858 350 855 335 857 320 C855 305 858 290 865 277 C872 268 880 262 885 250"/>
<!-- ala -->
<path fill="#e1d5ac" stroke="#8c804f" stroke-width="1" d="M867 282 C862 290 860 296 860 296 C858 310 857 324.6 857 324.6 C859 335 862 345 862 345 C864 352 867 358.5 867 358.5 C875 355 890 348 890.8 348 C905 340 916 334.8 916 334.8 C925 330 931.4 328 931.4 328 L929.7 297.5 C924 290 912 282 897 276 C885 276 875 278 867 282 Z"/>
<path fill="#ece4c8" d="M862 300 C880 296 905 300 928 310 C925 318 915 322 900 324 C885 326 870 322 860 316 Z"/>
<g stroke="#f2ecd8" stroke-width="1.4" fill="none" opacity="0.9"><path d="M864 328 C885 322 908 318 928 318"/><path d="M866 338 C888 330 910 324 929 322"/><path d="M864 312 C885 310 908 312 928 314"/></g>
<path fill="#ebe3c6" stroke="#8c804f" stroke-width="1" d="M875.5 277 C876 273 877 271 877 270.5 C879 268 882 268 882 268 C890 269 897.5 272 897.5 272 C905 275 912.8 279 912.8 279 C918 282 924.6 285.7 924.6 285.7 C928 290 929.7 297.5 929.7 297.5 C920 292 905 288 890 285 C882 283 878 281 875.5 277 Z"/>
<!-- SAP -->
<path fill="#e4d9b4" stroke="#8c804f" stroke-width="1" d="M913 278 C915 268 917 258 919 250 C920 247 922 247 924 249 C930 254 936 259 941.6 265.4 C944 269 946 272 948 274 L938 290 C930 286 920 281 913 278 Z"/>
<path fill="#d2c59a" opacity="0.8" d="M921 252 C926 258 932 264 938 272 L934 282 C928 276 922 268 921 252 Z"/>
</g>
<use href="#Rhalf" transform="matrix(-1 0 0 1 1966 0)"/>
<g id="Rmus">
<!-- pelvic floor muscles -->
<defs><clipPath id="rmclip"><path d="M931 329 C918 335 890 347 864 359 C850 375 840 395 835 415 C833 428 833 444 835 456 C838 466 841 474 845.8 482 C850 491 855 500 861 508 C867 516 874 523 882 529 C890 535 899 541 908 547 C915 552 922 559 929 565 C934 570 939 574 944.7 578 C950 582 955 585 960 586 C965 588 969 589 973 589 L993 589 C997 589 1001 588 1006 586 C1011 585 1016 582 1021.3 578 C1027 574 1032 570 1037 565 C1044 559 1051 552 1058 547 C1067 541 1076 535 1084 529 C1092 523 1099 516 1105 508 C1111 500 1116 491 1120.2 482 C1125 474 1128 466 1131 456 C1133 444 1133 428 1131 415 C1126 395 1116 375 1102 359 C1076 347 1048 335 1035 329 Z"/></clipPath></defs>
<path fill="#ee8d76" stroke="#9a8a55" stroke-width="1" d="M931 329 C918 335 890 347 864 359 C850 375 840 395 835 415 C833 428 833 444 835 456 C838 466 841 474 845.8 482 C850 491 855 500 861 508 C867 516 874 523 882 529 C890 535 899 541 908 547 C915 552 922 559 929 565 C934 570 939 574 944.7 578 C950 582 955 585 960 586 C965 588 969 589 973 589 L993 589 C997 589 1001 588 1006 586 C1011 585 1016 582 1021.3 578 C1027 574 1032 570 1037 565 C1044 559 1051 552 1058 547 C1067 541 1076 535 1084 529 C1092 523 1099 516 1105 508 C1111 500 1116 491 1120.2 482 C1125 474 1128 466 1131 456 C1133 444 1133 428 1131 415 C1126 395 1116 375 1102 359 C1076 347 1048 335 1035 329 Z"/>
<g clip-path="url(#rmclip)">
<g id="RmusHalf"><path fill="#e6826c" opacity="0.45" d="M864 359 C880 350 905 340 931 330 L940 345 C935 352 930 356 932 357 C910 375 885 398 862 420 C852 414 842 410 834 408 C838 392 848 372 864 359 Z"/>
<g stroke="#f8b29c" stroke-width="0.9" fill="none" opacity="0.85"><path d="M836.6 414.2 Q841.5 395.3 854.4 368.3"/><path d="M837.8 414.7 Q844.5 393.8 859.2 365.0"/><path d="M838.9 415.2 Q847.5 392.4 864.0 361.6"/><path d="M840.1 415.6 Q850.4 391.0 868.8 358.3"/><path d="M841.3 416.1 Q853.5 389.7 873.7 355.3"/><path d="M842.5 416.6 Q856.8 388.8 879.1 353.0"/><path d="M843.6 417.1 Q860.1 387.9 884.5 350.7"/><path d="M844.8 417.5 Q863.3 386.9 889.8 348.4"/><path d="M846.0 418.0 Q866.6 386.0 895.2 346.1"/><path d="M847.2 418.0 Q869.9 384.9 900.6 343.9"/><path d="M848.5 418.0 Q873.4 384.4 906.3 342.7"/><path d="M849.8 418.0 Q876.9 383.8 912.1 341.6"/><path d="M851.0 418.0 Q880.4 383.2 917.8 340.4"/><path d="M852.3 418.0 Q883.9 382.6 923.5 339.3"/><path d="M853.6 418.0 Q887.4 382.1 929.3 338.1"/><path d="M854.8 418.0 Q889.5 384.3 932.1 342.7"/><path d="M856.1 418.0 Q891.3 387.0 934.4 348.0"/><path d="M857.4 418.0 Q893.1 389.7 936.8 353.3"/><path d="M868.2 425.3 Q902.3 403.9 936.5 374.4"/><path d="M868.5 428.0 Q903.0 407.6 937.6 379.2"/><path d="M868.8 430.7 Q903.7 411.4 938.6 384.1"/><path d="M869.2 433.4 Q904.4 415.2 939.6 388.9"/><path d="M869.5 436.1 Q905.1 418.9 940.7 393.7"/><path d="M869.9 438.8 Q905.8 422.7 941.7 398.5"/><path d="M870.4 441.5 Q906.5 426.4 942.7 403.4"/><path d="M871.0 444.1 Q907.3 430.2 943.6 408.2"/><path d="M871.7 446.8 Q908.2 433.9 944.6 413.1"/><path d="M872.4 449.4 Q909.0 437.7 945.6 417.9"/><path d="M873.0 452.0 Q909.8 441.4 946.5 422.7"/><path d="M873.7 454.7 Q910.6 445.1 947.5 427.6"/><path d="M876.8 462.9 Q916.5 449.7 948.2 444.4"/><path d="M878.3 468.8 Q917.4 455.0 948.5 449.2"/><path d="M879.9 474.7 Q918.4 460.4 948.9 454.1"/><path d="M881.5 480.5 Q919.3 465.7 949.2 458.9"/><path d="M883.0 486.4 Q920.3 471.1 949.6 463.7"/><path d="M884.7 492.2 Q921.3 476.4 949.9 468.6"/><path d="M886.4 498.0 Q922.3 481.7 950.2 473.4"/><path d="M888.2 503.8 Q923.4 487.0 950.5 478.2"/><path d="M889.9 509.7 Q924.4 492.4 950.9 483.1"/><path d="M891.6 515.5 Q925.4 497.7 951.2 487.9"/><path d="M893.4 521.3 Q926.5 503.0 951.5 492.7"/><path d="M895.1 527.1 Q927.5 508.3 951.8 497.6"/><path d="M902.4 542.4 Q918.4 494.3 946.3 446.2"/><path d="M907.1 547.1 Q921.1 497.9 947.0 448.7"/><path d="M911.9 551.9 Q923.8 501.6 947.7 451.2"/><path d="M916.7 556.7 Q926.5 505.2 948.3 453.7"/><path d="M921.4 561.4 Q929.2 508.8 949.0 456.2"/><path d="M926.3 566.1 Q932.0 512.4 949.6 458.7"/><path d="M931.6 570.3 Q934.9 515.7 950.2 461.2"/><path d="M936.8 574.5 Q937.8 519.1 950.7 463.7"/><path d="M942.1 578.7 Q940.7 522.5 951.2 466.2"/><path d="M947.4 582.9 Q943.6 525.8 951.7 468.7"/></g>
<g stroke="#db745f" stroke-width="0.8" fill="none" opacity="0.6"><path d="M837.2 414.5 Q843.0 394.6 856.8 366.6"/><path d="M838.3 414.9 Q846.0 393.1 861.6 363.3"/><path d="M839.5 415.4 Q848.9 391.7 866.4 359.9"/><path d="M840.7 415.9 Q851.9 390.2 871.1 356.6"/><path d="M841.9 416.3 Q855.1 389.2 876.4 354.1"/><path d="M843.0 416.8 Q858.4 388.3 881.8 351.8"/><path d="M844.2 417.3 Q861.7 387.4 887.2 349.5"/><path d="M845.4 417.8 Q865.0 386.5 892.5 347.2"/><path d="M846.6 418.0 Q868.3 385.5 897.9 344.9"/><path d="M847.9 418.0 Q871.7 384.7 903.5 343.3"/><path d="M849.1 418.0 Q875.2 384.1 909.2 342.2"/><path d="M850.4 418.0 Q878.7 383.5 914.9 341.0"/><path d="M851.7 418.0 Q882.2 382.9 920.7 339.9"/><path d="M852.9 418.0 Q885.7 382.4 926.4 338.7"/><path d="M854.2 418.0 Q888.5 383.0 930.9 340.0"/><path d="M855.5 418.0 Q890.4 385.7 933.3 345.3"/><path d="M856.7 418.0 Q892.2 388.3 935.6 350.7"/><path d="M858.0 418.0 Q894.0 391.0 938.0 356.0"/><path d="M868.3 426.7 Q902.7 405.8 937.0 376.8"/><path d="M868.7 429.4 Q903.4 409.5 938.1 381.7"/><path d="M869.0 432.1 Q904.1 413.3 939.1 386.5"/><path d="M869.3 434.8 Q904.7 417.0 940.1 391.3"/><path d="M869.7 437.5 Q905.4 420.8 941.2 396.1"/><path d="M870.0 440.2 Q906.1 424.6 942.2 401.0"/><path d="M870.7 442.8 Q906.9 428.3 943.2 405.8"/><path d="M871.4 445.5 Q907.7 432.0 944.1 410.6"/><path d="M872.0 448.1 Q908.6 435.8 945.1 415.5"/><path d="M872.7 450.7 Q909.4 439.5 946.1 420.3"/><path d="M873.3 453.4 Q910.2 443.3 947.0 425.2"/><path d="M874.0 456.0 Q911.0 447.0 948.0 430.0"/><path d="M877.6 465.9 Q917.0 452.3 948.3 446.8"/><path d="M879.1 471.7 Q917.9 457.7 948.7 451.7"/><path d="M880.7 477.6 Q918.9 463.0 949.0 456.5"/><path d="M882.3 483.5 Q919.8 468.4 949.4 461.3"/><path d="M883.8 489.3 Q920.8 473.7 949.7 466.2"/><path d="M885.5 495.1 Q921.8 479.1 950.1 471.0"/><path d="M887.3 500.9 Q922.8 484.4 950.4 475.8"/><path d="M889.0 506.8 Q923.9 489.7 950.7 480.7"/><path d="M890.8 512.6 Q924.9 495.0 951.0 485.5"/><path d="M892.5 518.4 Q925.9 500.4 951.4 490.3"/><path d="M894.3 524.2 Q927.0 505.7 951.7 495.2"/><path d="M896.0 530.0 Q928.0 511.0 952.0 500.0"/><path d="M904.8 544.8 Q919.7 496.1 946.7 447.5"/><path d="M909.5 549.5 Q922.4 499.7 947.3 450.0"/><path d="M914.3 554.3 Q925.1 503.4 948.0 452.5"/><path d="M919.1 559.1 Q927.9 507.0 948.7 454.9"/><path d="M923.8 563.8 Q930.6 510.6 949.3 457.4"/><path d="M929.0 568.2 Q933.5 514.0 950.0 459.9"/><path d="M934.2 572.4 Q936.4 517.4 950.5 462.4"/><path d="M939.5 576.6 Q939.2 520.8 951.0 465.0"/><path d="M944.7 580.8 Q942.1 524.1 951.5 467.5"/><path d="M950.0 585.0 Q945.0 527.5 952.0 470.0"/></g>
<g stroke="#bd5a46" stroke-width="1.1" fill="none" opacity="0.8"><path d="M862 420 C885 398 910 375 932 357"/><path d="M872 432 C896 432 922 436 946 440"/><path d="M898 532 C912 498 930 466 950 442"/><path d="M950 462 C951 500 952 540 953 584"/><path d="M850 372 C870 362 900 348 930 338"/></g></g>
<use href="#RmusHalf" transform="matrix(-1 0 0 1 1966 0)"/>
<g stroke="#f3a08a" stroke-width="0.9" fill="none" opacity="0.85"><path d="M955 548 L1012 548"/><path d="M955 552 L1012 552"/><path d="M955 556 L1012 556"/><path d="M955 560 L1012 560"/><path d="M955 564 L1012 564"/><path d="M955 568 L1012 568"/><path d="M955 572 L1012 572"/><path d="M955 576 L1012 576"/><path d="M955 580 L1012 580"/><path d="M955 584 L1012 584"/><path d="M952 504 L1016 504"/><path d="M952 507 L1016 507"/><path d="M952 510 L1016 510"/><path d="M952 513 L1016 513"/></g>
</g>
</g>
<g id="Rside">
<path fill="#e07a65" d="M834 430 C836 450 840 466 846 480 C852 494 860 506 870 518 C878 524 886 530 892 534 C880 505 868 478 858 458 C852 446 846 436 842 428 Z"/>
<g stroke="#f09a84" stroke-width="0.8" fill="none" opacity="0.8"><path d="M840 445 C848 470 860 495 878 520"/><path d="M838 460 C846 480 856 500 870 515"/></g>
<!-- side blue (arcus tendineus) -->
<path fill="#c2def3" d="M833 405 C842 412 850 420 858 424 L866 421 L863 428 L873 430 L866 435 L876 440 L867 444 L875 450 L866 454 C872 470 882 495 898 533 C893 536 888 536 884 532 C874 512 864 490 856 472 C850 462 843 456 836 452 C834 440 833 420 833 405 Z"/>
<g stroke="#f2f8fd" stroke-width="1.1" fill="none" opacity="0.95"><path d="M836 414 C846 420 856 426 866 428"/><path d="M835 424 C846 430 856 434 868 436"/><path d="M835 434 C846 438 856 442 866 444"/><path d="M837 444 C846 446 856 448 864 450"/><path d="M852 460 C862 480 874 505 890 530"/><path d="M858 458 C868 478 880 502 894 528"/></g>
<g stroke="#9cc4e6" stroke-width="0.8" fill="none" opacity="0.8"><path d="M836 419 C846 425 856 430 864 432"/><path d="M855 466 C865 486 877 510 892 531"/></g>
<path fill="#ee8d76" opacity="0.9" d="M838 450 C845 470 858 495 872 520 C865 515 852 500 845 485 C840 475 837 462 838 450 Z"/>
</g>
<use href="#Rside" transform="matrix(-1 0 0 1 1966 0)"/></g>
<!-- central blue V -->
<path fill="#b9d8f0" d="M935 342 L960 346 C962 372 966 398 972 420 C976 428 980 432 984 432 C988 432 992 428 996 420 C1002 398 1006 372 1008 346 L1033 342 C1030 372 1026 402 1024 430 C1021 445 1015 455 1005 460 L963 460 C953 455 947 445 944 430 C942 402 938 372 935 342 Z"/>
<g stroke="#eaf3fb" stroke-width="1" fill="none" opacity="0.95"><path d="M941 352 C945 382 948 410 956 440"/><path d="M946 350 C950 380 953 408 960 436"/><path d="M1027 352 C1023 382 1020 410 1012 440"/><path d="M1022 350 C1018 380 1015 408 1008 436"/><path d="M962 450 L984 440 L1006 450"/><path d="M970 456 L984 446 L998 456"/></g>
<g stroke="#8fb8e0" stroke-width="0.8" fill="none" opacity="0.8"><path d="M938 348 C942 380 946 410 952 438"/><path d="M1030 348 C1026 380 1022 410 1016 438"/></g>
<!-- sacrum column -->
<path fill="#e2d6ad" stroke="#9c8f5e" stroke-width="1" d="M958 348 C960 372 964 398 971 419 C975 428 980 433 984.5 433 C989 433 994 428 998 419 C1005 398 1008 372 1010 348 Z"/>
<path fill="#ebe3c7" d="M963 352 C980 350 992 350 1005 352 C1004 362 1002 372 998 380 C988 378 978 378 969 380 C966 372 964 362 963 352 Z"/>
<g stroke="#c3b587" stroke-width="1.2" fill="none"><path d="M962 368 C978 372 992 372 1006 368"/><path d="M967 392 C980 396 990 396 1002 392"/><path d="M973 412 C981 415 988 415 996 412"/></g>
<!-- red fingers into blue -->
<path fill="#ee8d76" d="M946 430 L952 438 L950 446 L958 450 L954 456 L962 458 L958 464 L944 464 Z"/><path fill="#ee8d76" d="M1022 430 L1016 438 L1018 446 L1010 450 L1014 456 L1006 458 L1010 464 L1024 464 Z"/>
<path fill="#ee8d76" d="M935 345 L940 352 L936 360 L942 366 L938 374 L944 380 L935 380 Z"/><path fill="#ee8d76" d="M1033 345 L1028 352 L1032 360 L1026 366 L1030 374 L1024 380 L1033 380 Z"/>

<!-- lamina & spinous -->
<path fill="#e0d4aa" stroke="#8c804f" stroke-width="1" d="M944 276 C952 268 965 260 975 252 C979 248 980 243 981.6 240 C981 235 982 230 984 229 C987 229 990 231 991 235 C992 240 992 246 994 250 C997 255 1002 259 1008 262 C1014 266 1018 270 1022 274 L1020 284 C1014 278 1005 270 996 266 C990 263 986 262 984 262 C980 263 975 265 970 268 C962 273 955 278 950 286 Z"/>
<path fill="#fff" d="M962 283 C970 276 978 266 984 261 C990 266 998 276 1007 283 Z"/>
<path fill="#d3c69a" opacity="0.7" d="M982 236 C984 240 985 248 984 256 L980 258 C981 250 981 242 982 236 Z"/>
<!-- S1 body -->
<path fill="#ebe2c4" stroke="#8c804f" stroke-width="1.2" d="M931 300 C933 288 946 281 962 282 C975 283 990 283 1004 282 C1020 281 1034 288 1036 300 C1038 316 1037 332 1031 341 C1022 350 1005 352 984 352 C963 352 945 350 937 341 C930 332 929 316 931 300 Z"/>
<path fill="#cfc297" stroke="#a89b6b" stroke-width="0.8" d="M944 307 C944 298 951 295 962 296 C972 297 995 297 1006 296 C1016 295 1022 299 1022 309 C1022 321 1017 331 1005 333.5 C990 335 975 335 962 333.5 C950 331 944 321 944 307 Z"/>
<path fill="#dacd9f" opacity="0.8" d="M948 318 C960 325 1005 325 1018 318 C1015 328 1008 332 1000 333 C985 334 970 334 960 332 C953 330 949 325 948 318 Z"/>

<!-- organs -->
<path fill="#c97a66" opacity="0.8" d="M955 500 C970 506 1000 506 1014 500 L1018 516 C1000 512 970 512 950 516 Z"/>
<path fill="#f4a3c3" stroke="#dc7fa6" stroke-width="0.8" d="M954.2 487 C954 482 955 479 956.5 476.5 C958 472 961 471 964 470.5 C968 469 972 470 976 469 C980 467 982 466 985 466 C990 466 994 467 997 467.5 C1001 469 1004 471 1006 473.5 C1009 476 1012 479 1012.6 482.5 C1014 487 1013 491 1011.9 494.4 C1010 498 1008 500 1006 502 C1003 504 1000 504 997 505 C994 507 992 509 989.4 509.4 C986 510 983 509 980.4 508 C977 506 974 505 970 505 C966 505 963 504 961 503.4 C958 502 956 500 955 497.4 C954 494 954 490 954.2 487 Z"/>
<path fill="#dc4a8f" d="M959 487 C959 481 961 477 965 475 C970 473 974 474 978 473 C982 471 986 470 990 471 C996 471 1000 473 1003 476 C1007 480 1009 484 1008 489 C1008 494 1005 497 1001 499 C996 500 993 502 989 504 C985 505 982 504 978 502 C974 500 969 500 965 499 C961 497 959 493 959 487 Z"/>
<g fill="#ea76ab"><ellipse cx="968" cy="493" rx="5" ry="4"/><ellipse cx="979" cy="496" rx="5" ry="4.5"/><ellipse cx="992" cy="495" rx="6" ry="4"/><ellipse cx="1001" cy="489" rx="4" ry="4"/><ellipse cx="967" cy="481" rx="3.5" ry="4"/></g>
<g stroke="#a9215f" stroke-width="1.2" fill="none"><path d="M972 477 C976 482 978 486 976 491"/><path d="M983 476 C984 481 986 485 985 490 C990 488 995 486 1000 482"/><path d="M962 488 C966 487 971 488 974 490"/><path d="M985 490 C986 494 985 497 984 500"/></g>
<path fill="#f4a3c3" stroke="#dc7fa6" stroke-width="0.8" d="M955 515.4 C965 514 975 513.5 985 513 C995 512.5 1005 512 1014.9 511.7 C1017 513 1018.6 516 1018.6 520 C1018 524 1016.5 527 1016.4 530.4 C1016.5 534 1018 537 1017.9 540.9 C1016 543 1013 544 1010.4 543.9 C1002 543 993 541.8 985 541.6 C975 542 965 544 955 546 C952 546 950 544 949.7 540.9 C950 536 953 532 954.2 528.9 C953.5 525 951.5 522.5 951.2 520 C951.5 517 953 515.8 955 515.4 Z"/>
<path fill="#dc4a8f" d="M958 519 C968 518 978 517.5 985 517.2 C995 517 1004 516.5 1012 516.2 C1013 519 1013 522 1012 525 C1011 529 1011 533 1012.5 537.5 C1004 538 995 537.5 985 537.3 C975 537.5 966 539 958 540.5 C957 537 958 533 960 529.5 C959 526 957 522 958 519 Z"/>
<path fill="#ee7fb2" d="M962 527 C975 524 995 523 1008 525 C1000 529 980 530 962 531 Z"/>
<path stroke="#a9215f" stroke-width="1.1" fill="none" d="M960 529.5 C975 528 995 527.5 1011 528"/>
<ellipse cx="986" cy="557" rx="12.3" ry="10.9" fill="#f4a3c3" stroke="#dc7fa6" stroke-width="0.8"/>
<path fill="#c2306f" d="M982 558.5 C983 554 987 551.5 990 553 C991.5 555 991 558 989 559.5 C986.5 560 984 559.8 982 558.5 Z"/>
<!-- symphysis -->
<path fill="#a6d2ec" stroke="#6fa6c6" stroke-width="1" d="M975 588 L993.5 588 L993.5 618.5 L975 618.5 Z"/>
<path fill="#d0e9f6" d="M978 592 L981 592 L981.5 614 L978.5 614 Z M986 594 L988 594 L988 612 L986 612 Z"/>
<path fill="none" stroke="#3f8cb4" stroke-width="1.4" d="M975 618.5 L993.5 618.5"/>
<g fill="#c8b98a" opacity="0.85"><path d="M968 588 C971 595 973 605 974 617 L970 616 C969 606 968 596 966 590 Z"/><path d="M1000 588 C997 595 995 605 994.5 617 L998.5 616 C999 606 1000 596 1002 590 Z"/>
<path d="M942 580 C945 590 947 600 946 611 L943 612 C943 602 941 592 938 584 Z"/><path d="M1026 580 C1023 590 1021 600 1022 611 L1025 612 C1025 602 1027 592 1030 584 Z"/></g>
</g>
<defs>
<g id="pgicon">
<path fill="#5266b6" fill-rule="evenodd" d="M24.4 5.3 L34 5.3 L34 9.4 C37 8.2 41 7.5 46.9 7.5 C50 7.5 52.5 9.5 53.4 13 C54 17 53.2 20 51.9 22 C50 23.5 48.5 24.5 47.5 26 C46 29 45.2 32 44.8 35 C44.2 38 43.8 40 43.8 41.3 C42 43 40 43.2 34.4 43.2 C32 42.5 30.6 41.5 28.75 38.75 C27 41 25.5 42.5 21.9 43.2 C18 43.2 15 43 13.75 40 C13.4 36 13.2 33 12.5 30 C11.8 27.5 10.5 25.5 9.4 24.4 C7 22 6 20 4.7 16.9 C4.5 14 5 12 5.6 11.25 C7 9 8.5 8.2 9.4 8.1 C13 8 17 8.1 18.75 8.1 C21 8.5 23 9 24.4 9.4 Z
M18.1 20.6 C18.75 18.75 22.5 19.4 23.75 22.5 L28.75 27.5 L33.75 22.5 C35 19.4 40 18.75 41.25 21.25 C41.9 26.9 38.75 33.1 28.75 34 C18.75 33.1 16.9 26.9 18.1 20.6 Z
M16.2 38.1 A4.4 1.9 0 1 0 25 38.1 A4.4 1.9 0 1 0 16.2 38.1 Z M33.7 38.1 A4.1 1.9 0 1 0 41.9 38.1 A4.1 1.9 0 1 0 33.7 38.1 Z"/>
</g>
</defs>
<!--LOGOS-->
<g>
<use href="#pgicon" transform="translate(220.2 587.3)"/>
<text x="279.6" y="613.7" font-size="29" font-weight="bold" fill="#5669b8" textLength="191.6" lengthAdjust="spacingAndGlyphs">PELVIC GURU</text>
<text x="280.8" y="629.2" font-size="16" fill="#5669b8" textLength="154.7" lengthAdjust="spacingAndGlyphs">www.pelvicguru.com</text>
<text x="280.8" y="639.3" font-size="7.5" fill="#8a8a8a" textLength="125.5" lengthAdjust="spacingAndGlyphs">©Pelvic Guru, LLC 2019. All rights reserved.</text>
</g>
<g>
<use href="#pgicon" transform="translate(1108 232)"/>
<text x="1165.8" y="257.6" font-size="29" font-weight="bold" fill="#5266b6" textLength="184.7" lengthAdjust="spacingAndGlyphs">PELVIC GURU</text>
<text x="1353" y="241" font-size="6" fill="#8a8a8a">TM</text>
<text x="1166" y="271.6" font-size="15.5" fill="#5266b6" textLength="149" lengthAdjust="spacingAndGlyphs">www.pelvicguru.com</text>
<text x="1166" y="281.5" font-size="7" fill="#8a8a8a" textLength="120.5" lengthAdjust="spacingAndGlyphs">©Pelvic Guru, LLC 2019. All rights reserved.</text>
</g>
<!--TEXT-->
<g fill="#111">
<text x="66" y="81" font-size="40.5" textLength="584" lengthAdjust="spacingAndGlyphs">Beckenboden Ansicht von unten</text>
<text x="737" y="81" font-size="40.5" textLength="569" lengthAdjust="spacingAndGlyphs">Beckenboden Ansicht von oben</text>
<text x="292.5" y="152" font-size="27.5" textLength="129.5" lengthAdjust="spacingAndGlyphs">Symphyse</text>
<text x="923.5" y="653" font-size="27.5" textLength="129.5" lengthAdjust="spacingAndGlyphs">Symphyse</text>
</g>
<g fill="#1a1a1a" font-size="12.7">
<text x="509.5" y="671.6" textLength="347" lengthAdjust="spacingAndGlyphs">“Permission for use granted by Pelvic Guru®, LLC to the</text>
<text x="494.5" y="689.6" textLength="379" lengthAdjust="spacingAndGlyphs">author of this article as a member of the Global Pelvic Health</text>
<text x="498" y="707.6" textLength="373" lengthAdjust="spacingAndGlyphs">Alliance (GPHAM). For information on access to illustrations,</text>
<text x="501.5" y="725.6" textLength="363" lengthAdjust="spacingAndGlyphs">courses, and the largest global pelvic health directory, visit</text>
<text x="609" y="743.6" textLength="148" lengthAdjust="spacingAndGlyphs">www.pelvicglobal.com”.</text>
</g>
</svg>
</body></html>
